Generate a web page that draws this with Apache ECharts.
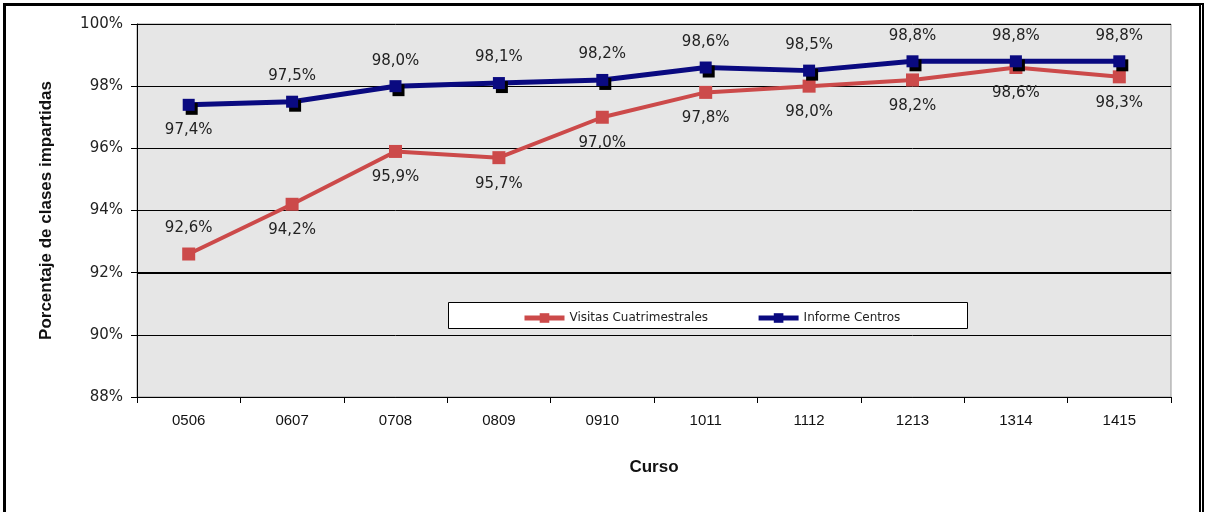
<!DOCTYPE html>
<html>
<head>
<meta charset="utf-8">
<script src="https://cdn.jsdelivr.net/npm/echarts@6/dist/echarts.min.js"></script>
<style>
  body { margin: 0; background: #fff; }
  #frame { position: absolute; left: 3px; top: 3px; width: 1193px; height: 520px; border-left: 3px solid #000; border-top: 3px solid #000; border-right: 5px double #000; }
  #chart { position: absolute; left: 0; top: 0; width: 1209px; height: 512px; }
</style>
</head>
<body>
<div id="frame"></div>
<div id="chart"></div>
<script>
  var cursos = ['0506', '0607', '0708', '0809', '0910', '1011', '1112', '1213', '1314', '1415'];
  var visitas = [92.6, 94.2, 95.9, 95.7, 97.0, 97.8, 98.0, 98.2, 98.6, 98.3];
  var informe = [97.4, 97.5, 98.0, 98.1, 98.2, 98.6, 98.5, 98.8, 98.8, 98.8];
  var posVisitas = ['top', 'bottom', 'bottom', 'bottom', 'bottom', 'bottom', 'bottom', 'bottom', 'bottom', 'bottom'];
  var posInforme = ['bottom', 'top', 'top', 'top', 'top', 'top', 'top', 'top', 'top', 'top'];

  var fmt = function (p) { return p.value.toFixed(1).replace('.', ',') + '%'; };
  var labelFont = { fontFamily: 'DejaVu Sans', fontSize: 15, color: '#222' };

  function build(vals, pos) {
    return vals.map(function (v, i) {
      return { value: v, label: { position: pos[i], distance: 12 } };
    });
  }

  var chart = echarts.init(document.getElementById('chart'));
  chart.setOption({
    animation: false,
    grid: {
      left: 137, right: 38, top: 24, bottom: 115,
      show: true, backgroundColor: '#e6e6e6', borderColor: '#999', borderWidth: 1
    },
    graphic: [{
      type: 'rect', left: 448, top: 302, z: 3,
      shape: { width: 519, height: 26 },
      style: { fill: '#fff', stroke: '#000', lineWidth: 1 }
    }],
    legend: {
      left: 517, top: 307, itemGap: 48,
      itemWidth: 40, itemHeight: 12,
      lineStyle: { width: 5 },
      textStyle: { fontFamily: 'DejaVu Sans', fontSize: 12, color: '#222' },
      data: ['Visitas Cuatrimestrales', 'Informe Centros']
    },
    xAxis: {
      type: 'category', data: cursos, boundaryGap: true,
      name: 'Curso', nameLocation: 'middle', nameGap: 62,
      nameTextStyle: { fontFamily: 'Liberation Sans', fontWeight: 'bold', fontSize: 17, color: '#111' },
      axisLine: { lineStyle: { color: '#000' } },
      axisTick: { show: true, length: 6, lineStyle: { color: '#000' } },
      axisLabel: { margin: 16, fontFamily: 'Liberation Sans', fontSize: 15, color: '#111' }
    },
    yAxis: {
      type: 'value', min: 88, max: 100, interval: 2,
      name: 'Porcentaje de clases impartidas', nameLocation: 'middle', nameGap: 82,
      nameTextStyle: { fontFamily: 'Liberation Sans', fontWeight: 'bold', fontSize: 17, color: '#111' },
      axisLine: { show: true, lineStyle: { color: '#000' } },
      axisTick: { show: true, length: 6, lineStyle: { color: '#000' } },
      axisLabel: { margin: 14, fontFamily: 'DejaVu Sans', fontSize: 15, color: '#222',
        formatter: function (v) { return v + '%'; } },
      splitLine: { lineStyle: { color: '#000', width: 1 } }
    },
    series: [
      {
        name: 'Visitas Cuatrimestrales', type: 'line', data: build(visitas, posVisitas),
        symbol: 'rect', symbolSize: 13,
        lineStyle: { color: '#cc4a4a', width: 4 },
        itemStyle: { color: '#cc4a4a' },
        label: Object.assign({ show: true, formatter: fmt }, labelFont),
        markLine: {
          silent: true, symbol: 'none', label: { show: false },
          lineStyle: { color: '#000', width: 2, type: 'solid' },
          data: [{ yAxis: 92 }]
        },
        z: 2
      },
      {
        name: 'Informe Centros', type: 'line', data: build(informe, posInforme),
        symbol: 'rect', symbolSize: 12,
        lineStyle: { color: '#0a0a80', width: 5 },
        itemStyle: { color: '#0a0a80', shadowColor: '#000', shadowOffsetX: 3, shadowOffsetY: 4, shadowBlur: 0 },
        label: Object.assign({ show: true, formatter: fmt }, labelFont),
        z: 3
      }
    ]
  });
</script>
</body>
</html>
